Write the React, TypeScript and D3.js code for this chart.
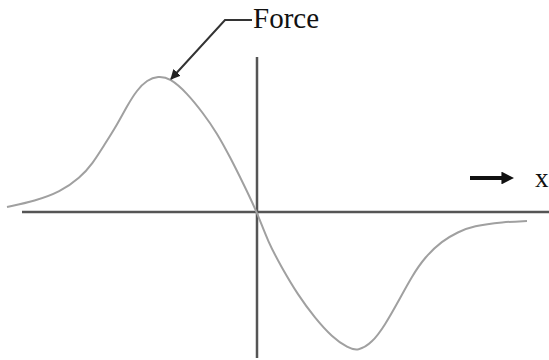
import React from "react";
import * as d3 from "d3";

// Curve samples: position relative to origin (x) and force (positive up)
const curveX = [-250, -222, -197, -177, -164, -154, -140, -130, -120, -110, -99, -87, -70, -54, -40, -27, -14, 0, 11, 25, 41, 58, 75, 91, 101, 115, 128, 141, 155, 168, 185, 201, 216, 246, 270];
const curveF = [5, 11, 20, 34, 49, 65, 87, 106, 122, 132, 136, 134, 119, 99, 79, 55, 29, 0, -30, -56, -83, -106, -125, -136, -139, -131, -113, -90, -64, -45, -29, -20, -14, -10, -9];

// Axes extents (data units)
const xAxisExtent = [-235, 292];
const fAxisExtent = [-146, 155];

// Annotation leader for "Force"
const leaderX = [-5, -32, -86];
const leaderF = [192, 192, 133];
const labelForce = "Force";
const labelX = "x";

const W = 549;
const H = 360;

export default function App() {
  const xs = d3.scaleLinear().domain([-257, 292]).range([0, W]);
  const ys = d3.scaleLinear().domain([-148, 212]).range([H, 0]);

  const pts: [number, number][] = curveX.map((x, i) => [x, curveF[i]]);
  const line = d3
    .line<[number, number]>()
    .x((d) => xs(d[0]))
    .y((d) => ys(d[1]))
    .curve(d3.curveBasis);

  const leaderPts: [number, number][] = leaderX.map((x, i) => [x, leaderF[i]]);
  const leader = d3
    .line<[number, number]>()
    .x((d) => xs(d[0]))
    .y((d) => ys(d[1]));

  return (
    <svg
      width={W}
      height={H}
      style={{ position: "fixed", left: 0, top: 0, background: "#fff" }}
      fontFamily="'Liberation Serif', 'Times New Roman', serif"
    >
      <defs>
        <marker id="ah" viewBox="0 0 10 10" refX="9" refY="5" markerWidth="5" markerHeight="5" orient="auto" markerUnits="strokeWidth">
          <path d="M0,0 L10,5 L0,10 z" fill="#222" />
        </marker>
        <marker id="ah2" viewBox="0 0 10 10" refX="2" refY="5" markerWidth="3.2" markerHeight="3.2" orient="auto" markerUnits="strokeWidth">
          <path d="M0,0 L10,5 L0,10 z" fill="#111" />
        </marker>
      </defs>
      {/* axes */}
      <line x1={xs(xAxisExtent[0])} x2={xs(xAxisExtent[1])} y1={ys(0)} y2={ys(0)} stroke="#555" strokeWidth={2.5} />
      <line x1={xs(0)} x2={xs(0)} y1={ys(fAxisExtent[1])} y2={ys(fAxisExtent[0])} stroke="#555" strokeWidth={2.5} />
      {/* curve */}
      <path d={line(pts) || ""} fill="none" stroke="#a0a0a0" strokeWidth={2} />
      {/* leader */}
      <path d={leader(leaderPts) || ""} fill="none" stroke="#333" strokeWidth={2} markerEnd="url(#ah)" />
      <text x={xs(-4)} y={28} fontSize={29} fill="#111">{labelForce}</text>
      {/* x direction arrow */}
      <line x1={470} x2={504} y1={178} y2={178} stroke="#111" strokeWidth={4} markerEnd="url(#ah2)" />
      <text x={535} y={187} fontSize={27} fill="#111">{labelX}</text>
    </svg>
  );
}
